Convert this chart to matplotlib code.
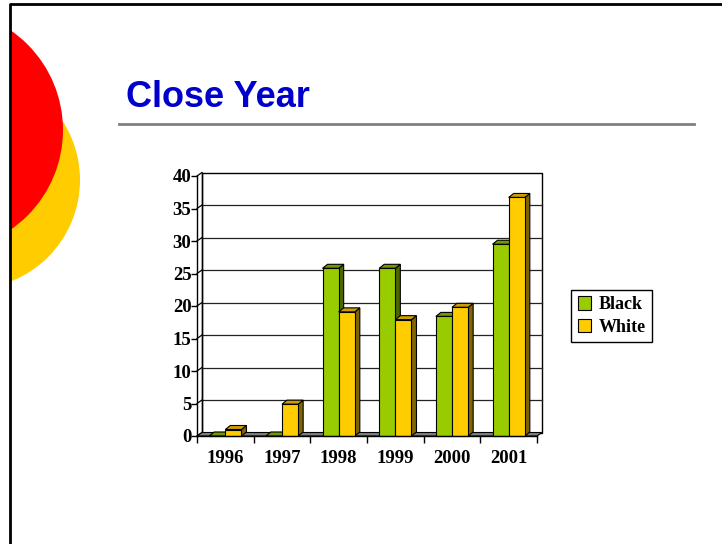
import matplotlib
matplotlib.use('Agg')
import matplotlib.pyplot as plt
import numpy as np
from matplotlib.patches import Circle, Polygon, Rectangle

# closing counts per year
years = ['1996', '1997', '1998', '1999', '2000', '2001']
black = [0, 0, 25.8, 25.8, 18.4, 29.5]
white = [1, 4.9, 19.1, 17.9, 19.8, 36.7]
series = [('Black', black), ('White', white)]
yticks = [0, 5, 10, 15, 20, 25, 30, 35, 40]

# face colours: front, side, top
colors = {
    'Black': ('#99CC00', '#4D6600', '#739900'),
    'White': ('#FFCC00', '#806600', '#CC9F00'),
}

W, H = 722, 544
fig = plt.figure(figsize=(W / 100, H / 100), dpi=100)

# slide decoration in pixel coordinates
bg = fig.add_axes([0, 0, 1, 1])
bg.set_xlim(0, W)
bg.set_ylim(H, 0)
bg.axis('off')
bg.add_patch(Circle((-29, 180), 109, color='#FFCC00', lw=0))
bg.add_patch(Circle((-58, 130), 121, color='#FF0000', lw=0))
bg.add_patch(Rectangle((0, 0), 10, H, color='white', lw=0))
bg.plot([10, 10, W], [H, 3.5, 3.5], color='black', lw=2.0, solid_capstyle='butt')
bg.text(126, 107, 'Close Year', color='#0000CC', fontsize=26, fontweight='bold',
        family='Liberation Sans', va='baseline', ha='left')
bg.plot([119, 694], [124, 124], color='#808080', lw=2)

# chart: front plane from x=197..537, y=436 (0) .. 176 (40)
x0, x1, yb, yt = 197, 537, 436, 176
ax = fig.add_axes([x0 / W, 1 - yb / H, (x1 - x0) / W, (yb - yt) / H])
ax.set_xlim(0, len(years))
ax.set_ylim(0, 40)
ax.patch.set_visible(False)
pxx = len(years) / (x1 - x0)
pxy = 40 / (yb - yt)

# wall and bar depth offsets in data units
wdx, wdy = 5 * pxx, 3.5 * pxy
bdx, bdy = 5 * pxx, 4 * pxy
n = len(years)

# back wall and gridlines
ax.add_patch(Rectangle((wdx, wdy), n, 40, fill=False, ec='black', lw=1.0,
                       clip_on=False, zorder=1))
for v in yticks[1:-1]:
    ax.plot([wdx, n + wdx], [v + wdy, v + wdy], color='#222222', lw=0.9,
            clip_on=False, zorder=1)
for v in yticks:
    ax.plot([0, wdx], [v, v + wdy], color='black', lw=0.9, clip_on=False, zorder=1)
ax.plot([wdx, wdx], [wdy, 40 + wdy], color='black', lw=1.0, clip_on=False, zorder=1)

# floor
ax.add_patch(Polygon([(0, 0), (n, 0), (n + wdx, wdy), (wdx, wdy)], closed=True,
                     fc='#808080', ec='black', lw=0.8, clip_on=False, zorder=2))

w = 0.285
xc = np.arange(n) + 0.5
z = 3
for i in range(n):
    for k, (name, vals) in enumerate(series):
        front, side, top = colors[name]
        left = xc[i] - w + k * w
        v = vals[i]
        ax.bar(left, v, width=w, align='edge', color=front, ec='black', lw=0.8,
               zorder=z + 1, clip_on=False)
        ax.add_patch(Polygon([(left + w, 0), (left + w + bdx, bdy),
                              (left + w + bdx, v + bdy), (left + w, v)], closed=True,
                             fc=side, ec='black', lw=0.8, zorder=z, clip_on=False))
        ax.add_patch(Polygon([(left, v), (left + w, v), (left + w + bdx, v + bdy),
                              (left + bdx, v + bdy)], closed=True,
                             fc=top, ec='black', lw=0.8, zorder=z, clip_on=False))
        z += 2

for s in ['top', 'right']:
    ax.spines[s].set_visible(False)
for s in ['left', 'bottom']:
    ax.spines[s].set_linewidth(1.0)
    ax.spines[s].set_zorder(40)

serif = dict(family='Liberation Serif', fontweight='bold', fontsize=13.5)
ax.set_yticks(yticks)
ax.set_yticklabels([str(v) for v in yticks], **serif)
ax.set_xticks(np.arange(n + 1))
ax.set_xticklabels([])
ax.set_xticks(xc, minor=True)
ax.set_xticklabels(years, minor=True, **serif)
ax.tick_params(axis='y', direction='out', length=4, width=1, pad=0)
ax.tick_params(axis='x', which='major', direction='out', length=5, width=1)
ax.tick_params(axis='x', which='minor', length=0, pad=10)

leg = fig.legend(
    handles=[Rectangle((0, 0), 1, 1, fc=colors[name][0], ec='black', lw=0.8)
             for name, _ in series],
    labels=[name for name, _ in series],
    loc='center', bbox_to_anchor=(611.5 / W, 1 - 316 / H),
    prop=dict(family='Liberation Serif', weight='bold', size=13),
    frameon=True, fancybox=False, framealpha=1, edgecolor='black',
    handlelength=0.75, handleheight=0.75, handletextpad=0.4,
    borderpad=0.35, labelspacing=0.3, borderaxespad=0)
leg.get_frame().set_linewidth(1.0)

fig.savefig('out.png', dpi=100)
